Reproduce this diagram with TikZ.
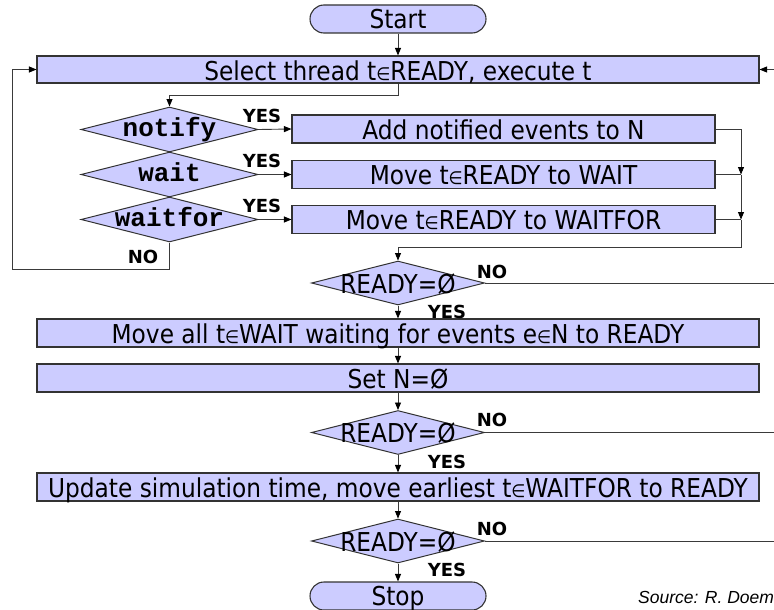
\documentclass[tikz,border=0pt]{standalone}
\usepackage{fontspec}
\usetikzlibrary{arrows.meta,shapes.geometric}
\newfontfamily\mainf[FakeStretch=0.895]{DejaVu Sans}
\newfontfamily\lblf{DejaVu Sans}
\newfontfamily\monof{Liberation Mono}
\newfontfamily\srcf{Liberation Sans}
\definecolor{boxfill}{HTML}{CCCCFF}
\definecolor{edgec}{HTML}{333333}
\definecolor{connc}{HTML}{3A3A3A}
\newcommand{\ct}[2]{\raisebox{#1}[0pt][0pt]{\makebox[0pt]{#2}}}
\newcommand{\elm}{{\fontsize{18}{20}\selectfont ∈}}
\begin{document}
\begin{tikzpicture}[x=1pt,y=-1pt,
  box/.style={draw=edgec, line width=1.1pt, fill=boxfill, rectangle, inner sep=0pt,
    minimum height=28pt, font=\mainf\fontsize{26}{30}\selectfont},
  widebox/.style={box, minimum width=722pt},
  sidebox/.style={box, minimum width=423pt},
  term/.style={box, minimum width=176pt, rounded corners=14pt},
  dia/.style={draw=edgec, line width=1pt, fill=boxfill, diamond, inner sep=0pt,
    minimum width=177pt, minimum height=45pt, font=\monof\bfseries\fontsize{26}{28}\selectfont},
  rdia/.style={draw=edgec, line width=1pt, fill=boxfill, diamond, inner sep=0pt,
    minimum width=173pt, minimum height=44pt, font=\mainf\fontsize{26}{30}\selectfont},
  lbl/.style={inner sep=0pt, font=\lblf\bfseries\fontsize{18}{20}\selectfont},
  conn/.style={draw=connc, line width=0.9pt},
  arr/.style={conn, -{Triangle[length=7.5pt,width=6pt,color=black]}}
]
\useasboundingbox (0,0) rectangle (774,610);
\clip (0,0) rectangle (774,610);

% nodes
\node[term] (start) at (398,19) {\ct{-10pt}{Start}};
\node[widebox, minimum height=27pt] (sel) at (398,69.5) {\ct{-11pt}{Select thread t\elm READY, execute t}};
\node[dia] (nt) at (169.5,129.5) {\ct{-6.5pt}{notify}};
\node[dia] (wt) at (169.5,174.5) {\ct{-6.5pt}{wait}};
\node[dia] (wf) at (169.5,219.5) {\ct{-6.5pt}{waitfor}};
\node[sidebox] (add) at (503.5,129) {\ct{-10pt}{Add notified events to N}};
\node[sidebox] (mw) at (503.5,174.5) {\ct{-10pt}{Move t\elm READY to WAIT}};
\node[sidebox] (mwf) at (503.5,219.5) {\ct{-10pt}{Move t\elm READY to WAITFOR}};
\node[rdia] (r1) at (398,283) {\ct{-10pt}{READY=Ø}};
\node[widebox] (mall) at (398,333) {\ct{-10pt}{Move all t\elm WAIT waiting for events e\elm N to READY}};
\node[widebox] (setn) at (398,378) {\ct{-10pt}{Set N=Ø}};
\node[rdia] (r2) at (398,432.5) {\ct{-10pt}{READY=Ø}};
\node[widebox] (upd) at (398,487) {\ct{-10pt}{Update simulation time, move earliest t\elm WAITFOR to READY}};
\node[rdia] (r3) at (398,541) {\ct{-10pt}{READY=Ø}};
\node[term] (stop) at (398,596) {\ct{-9pt}{Stop}};

% coordinates
\coordinate (selr) at (780,69.5);
\coordinate (a1) at (398,95);
\coordinate (a2) at (169.5,95);
\coordinate (l1) at (169.5,269);
\coordinate (l2) at (12,269);
\coordinate (l3) at (12,69.5);
\coordinate (m1) at (741,129);
\coordinate (m2) at (741,174.5);
\coordinate (m3) at (741,219.5);
\coordinate (m4) at (741,247);
\coordinate (m5) at (398,247);
\coordinate (n1) at (780,283);
\coordinate (n2) at (780,432.5);
\coordinate (n3) at (780,541);

% connectors
\draw[arr] (start.south) -- (sel.north);
\draw[arr] (selr) -- (sel.east);
\draw[arr] (sel.south) -- (a1) -- (a2) -- (nt.north);
\draw[arr] (nt.east) -- (add.west);
\draw[arr] (wt.east) -- (mw.west);
\draw[arr] (wf.east) -- (mwf.west);
\draw[arr] (wf.south) -- (l1) -- (l2) -- (l3) -- (sel.west);
\draw[arr] (add.east) -- (m1) -- (m2);
\draw[conn] (mw.east) -- (m2);
\draw[arr] (m2) -- (m3);
\draw[conn] (mwf.east) -- (m3);
\draw[arr] (m3) -- (m4) -- (m5) -- (r1.north);
\draw[conn] (r1.east) -- (n1);
\draw[arr] (r1.south) -- (mall.north);
\draw[arr] (mall.south) -- (setn.north);
\draw[arr] (setn.south) -- (r2.north);
\draw[conn] (r2.east) -- (n2);
\draw[arr] (r2.south) -- (upd.north);
\draw[arr] (upd.south) -- (r3.north);
\draw[conn] (r3.east) -- (n3);
\draw[arr] (r3.south) -- (stop.north);

% labels
\node[lbl] (y1) at (262,116) {YES};
\node[lbl] (y2) at (262,161) {YES};
\node[lbl] (y3) at (262,206) {YES};
\node[lbl] (nl) at (143,257) {NO};
\node[lbl] (no1) at (492,272) {NO};
\node[lbl] (ye1) at (447,312) {YES};
\node[lbl] (no2) at (492,420) {NO};
\node[lbl] (ye2) at (447,462) {YES};
\node[lbl] (no3) at (492,529) {NO};
\node[lbl] (ye3) at (447,570) {YES};
\node[anchor=base west, inner sep=0pt, font=\srcf\itshape\fontsize{17.5}{19}\selectfont] (src) at (638,603) {Source: R. Doemer};
\end{tikzpicture}
\end{document}
